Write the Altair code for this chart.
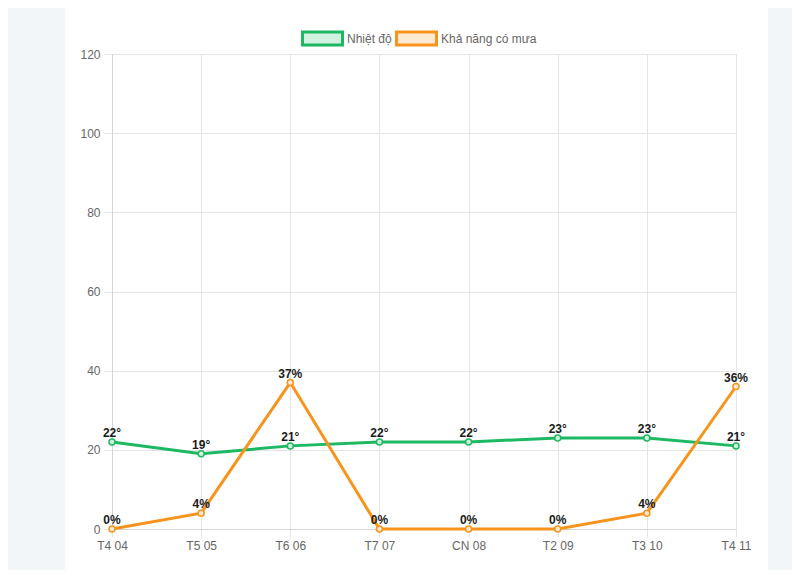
import altair as alt
import pandas as pd

days = ["T4 04", "T5 05", "T6 06", "T7 07", "CN 08", "T2 09", "T3 10", "T4 11"]
temps = [22, 19, 21, 22, 22, 23, 23, 21]
rain = [0, 4, 37, 0, 0, 0, 4, 36]
series = ["Nhiệt độ", "Khả năng có mưa"]
line_colors = ["#1db862", "#f7941d"]
fill_colors = ["#d3f1e0", "#fee9d3"]
y_ticks = [0, 20, 40, 60, 80, 100, 120]

rows = []
for d, t in zip(days, temps):
    rows.append({"day": d, "value": t, "series": series[0], "label": f"{t}°"})
for d, r in zip(days, rain):
    rows.append({"day": d, "value": r, "series": series[1], "label": f"{r}%"})
df = pd.DataFrame(rows)

FONT = "Liberation Sans"
PAGE_BG = "#f3f6f8"

x = alt.X("day:N", sort=days, scale=alt.Scale(type="point", padding=0),
          axis=alt.Axis(title=None, labelAngle=0, grid=True, tickSize=8,
                        labelPadding=3, domainColor="#d4d4d4", tickColor="#e5e5e5",
                        gridColor="#e5e5e5"))
y = alt.Y("value:Q", scale=alt.Scale(domain=[0, 120]),
          axis=alt.Axis(title=None, values=y_ticks, tickSize=8, labelPadding=4,
                        domainColor="#d4d4d4", tickColor="#e5e5e5", gridColor="#e5e5e5"))

leg = alt.Legend(title=None, orient="none", legendX=189, legendY=-37,
                 direction="horizontal", symbolType="M-1,-0.325H1V0.325H-1Z",
                 symbolSize=1600, symbolStrokeWidth=3, labelFontSize=12,
                 labelColor="#666666", labelFont=FONT, columnPadding=-2, labelOffset=3)

stroke = alt.Stroke("series:N", scale=alt.Scale(domain=series, range=line_colors), legend=leg)
fill = alt.Fill("series:N", scale=alt.Scale(domain=series, range=fill_colors), legend=leg)

base = alt.Chart(df)

# page background strips around the white card
one = pd.DataFrame({"a": [0]})
left_bg = alt.Chart(one).mark_rect(color=PAGE_BG, clip=False).encode(
    x=alt.value(-130), x2=alt.value(-47), y=alt.value(-80), y2=alt.value(560))
right_bg = alt.Chart(one).mark_rect(color=PAGE_BG, clip=False).encode(
    x=alt.value(656), x2=alt.value(720), y=alt.value(-80), y2=alt.value(560))
bottom_bg = alt.Chart(one).mark_rect(color=PAGE_BG, clip=False).encode(
    x=alt.value(-130), x2=alt.value(720), y=alt.value(521), y2=alt.value(560))

lines = base.mark_line(strokeWidth=3).encode(x=x, y=y, stroke=stroke)
points = base.mark_point(filled=True, size=36, strokeWidth=1.5, opacity=1).encode(
    x=x, y=y, stroke=stroke, fill=fill)
labels = base.mark_text(fontWeight="bold", fontSize=12, color="#1a1a1a", font=FONT,
                        baseline="alphabetic", dy=-5).encode(x=x, y=y, text="label:N")

chart = alt.layer(left_bg, right_bg, bottom_bg, lines, points, labels).properties(
    width=624, height=475, background="white",
    autosize=alt.AutoSizeParams(type="none"),
    padding={"left": 104, "top": 46, "right": 56, "bottom": 41},
).configure_view(stroke=None).configure_axis(
    labelFont=FONT, labelFontSize=12, labelColor="#666666"
)

chart.save("out.html", embed_options={"renderer": "svg", "actions": False})
